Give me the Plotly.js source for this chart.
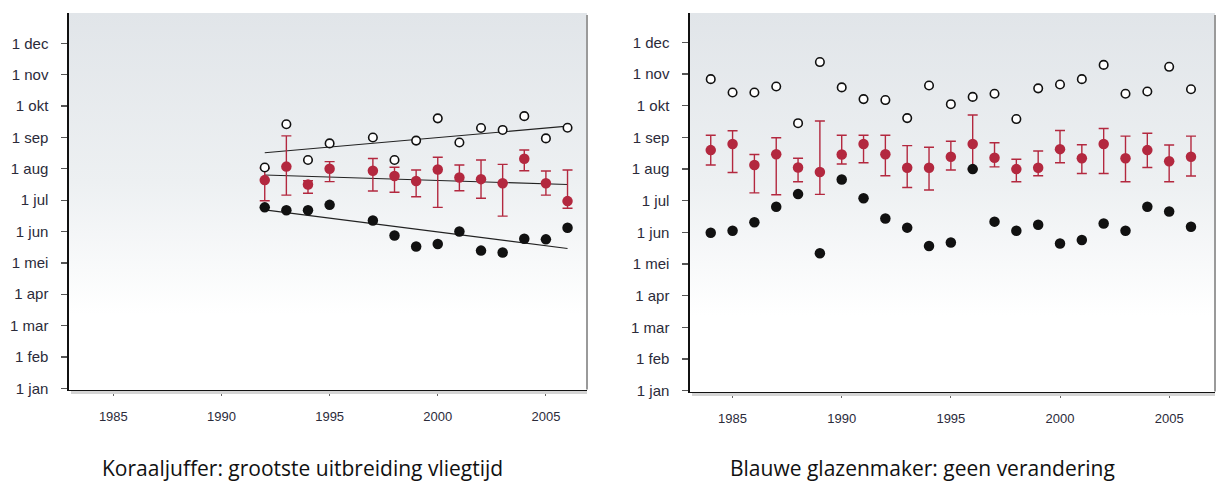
<!DOCTYPE html>
<html>
<head>
<meta charset="utf-8">
<script src="https://cdn.plot.ly/plotly-3.0.1.min.js"></script>
<style>html,body{margin:0;padding:0;background:#fff;}#chart{width:1220px;height:482px;}</style>
</head>
<body>
<div id="chart"></div>
<script>
// y values: months since 1 jan (0 = 1 jan, 11 = 1 dec)
const monthLabels = ["1 jan","1 feb","1 mar","1 apr","1 mei","1 jun","1 jul","1 aug","1 sep","1 okt","1 nov","1 dec"];
const yearTicks = [1985, 1990, 1995, 2000, 2005];

// Koraaljuffer (left)
const koraYears = [1992,1993,1994,1995,1997,1998,1999,2000,2001,2002,2003,2004,2005,2006];
const koraLast  = [7.04,8.42,7.28,7.81,8.00,7.28,7.90,8.61,7.84,8.30,8.24,8.68,7.97,8.31];
const koraMean  = [6.64,7.07,6.50,7.00,6.94,6.77,6.61,6.98,6.72,6.67,6.54,7.32,6.54,5.97];
const koraHigh  = [7.02,8.05,6.62,7.23,7.33,7.05,6.96,7.37,7.12,7.28,7.14,7.60,6.93,6.96];
const koraLow   = [5.98,6.16,6.22,6.59,6.29,6.25,6.11,5.77,6.30,6.06,5.49,6.94,6.16,5.74];
const koraFirst = [5.77,5.68,5.68,5.85,5.35,4.87,4.52,4.60,5.00,4.39,4.33,4.77,4.75,5.12];
const trendYears = [1992, 2006];
const trendLast  = [7.51, 8.36];
const trendMean  = [6.80, 6.50];
const trendFirst = [5.69, 4.46];

// Blauwe glazenmaker (right)
const blauYears = [1984,1985,1986,1987,1988,1989,1990,1991,1992,1993,1994,1995,1996,1997,1998,1999,2000,2001,2002,2003,2004,2005,2006];
const blauLast  = [9.84,9.42,9.42,9.61,8.45,10.38,9.58,9.21,9.18,8.61,9.64,9.05,9.28,9.38,8.58,9.55,9.67,9.84,10.29,9.38,9.45,10.23,9.52];
const blauMean  = [7.60,7.79,7.13,7.47,7.05,6.91,7.46,7.79,7.47,7.04,7.04,7.39,7.79,7.36,7.00,7.04,7.63,7.34,7.79,7.34,7.60,7.25,7.39];
const blauHigh  = [8.07,8.21,7.46,7.99,7.34,8.52,8.07,8.07,8.07,7.74,7.69,7.88,8.71,7.83,7.31,7.57,8.22,7.77,8.28,8.04,8.13,7.76,8.04];
const blauLow   = [7.13,6.89,6.25,6.19,6.60,6.20,7.16,7.20,6.79,6.42,6.34,6.97,7.00,7.07,6.60,6.79,7.20,6.86,6.86,6.60,7.05,6.60,6.78];
const blauFirst = [4.99,5.05,5.32,5.81,6.21,4.34,6.67,6.08,5.44,5.15,4.57,4.68,7.00,5.34,5.05,5.24,4.65,4.76,5.28,5.05,5.81,5.66,5.18];

const RED = '#b3283f';
const plus = (a, b) => a.map((v, i) => v - b[i]);
const minus = (a, b) => b.map((v, i) => v - a[i]);

function panelTraces(years, last, mean, hi, lo, first, xa, ya) {
  return [
    {x: years, y: mean, xaxis: xa, yaxis: ya, type: 'scatter', mode: 'markers',
     marker: {color: RED, size: 10.5},
     error_y: {type: 'data', symmetric: false, array: plus(hi, mean), arrayminus: minus(lo, mean),
               color: RED, thickness: 1.4, width: 5}},
    {x: years, y: first, xaxis: xa, yaxis: ya, type: 'scatter', mode: 'markers',
     marker: {color: '#111', size: 10.5}},
    {x: years, y: last, xaxis: xa, yaxis: ya, type: 'scatter', mode: 'markers',
     marker: {color: '#fff', size: 8.5, line: {color: '#111', width: 1.6}}}
  ];
}

const traces = [
  {x: trendYears, y: trendLast, xaxis: 'x', yaxis: 'y', mode: 'lines', line: {color: '#222', width: 1.1}},
  {x: trendYears, y: trendMean, xaxis: 'x', yaxis: 'y', mode: 'lines', line: {color: '#222', width: 1.1}},
  {x: trendYears, y: trendFirst, xaxis: 'x', yaxis: 'y', mode: 'lines', line: {color: '#222', width: 1.1}},
  ...panelTraces(koraYears, koraLast, koraMean, koraHigh, koraLow, koraFirst, 'x', 'y'),
  ...panelTraces(blauYears, blauLast, blauMean, blauHigh, blauLow, blauFirst, 'x2', 'y2')
];

const W = 1220, H = 482;
const px = v => v / W, py = v => 1 - v / H;

const xFont = {family: 'Liberation Sans, Arial, sans-serif', size: 13, color: '#2b2b3a'};
const yFont = {family: 'Liberation Sans, Arial, sans-serif', size: 15, color: '#2b2b3a'};
function xAxis(dom, range, anchor) {
  return {domain: dom, range: range, anchor: anchor, tickvals: yearTicks, ticks: 'outside', ticklen: 5, tickcolor: '#666',
          tickwidth: 1, showline: true, linecolor: '#111', linewidth: 1.6, showgrid: false, zeroline: false,
          tickfont: xFont, ticklabelstandoff: 9, fixedrange: true};
}
function yAxis(dom, range, anchor) {
  return {domain: dom, range: range, anchor: anchor, tickvals: [0,1,2,3,4,5,6,7,8,9,10,11], ticktext: monthLabels,
          ticks: 'outside', ticklen: 6, tickcolor: '#555', tickwidth: 1.3, showline: true, linecolor: '#111',
          linewidth: 1.6, showgrid: false, zeroline: false, tickfont: yFont, ticklabelstandoff: 10, fixedrange: true};
}

const grad = 'data:image/svg+xml;utf8,' + encodeURIComponent(
  '<svg xmlns="http://www.w3.org/2000/svg" width="100" height="100" preserveAspectRatio="none">' +
  '<defs><linearGradient id="g" x1="0" y1="0" x2="0" y2="1">' +
  '<stop offset="0" stop-color="#e1e5e9"/><stop offset="0.45" stop-color="#edf0f2"/>' +
  '<stop offset="0.8" stop-color="#ffffff"/><stop offset="1" stop-color="#ffffff"/></linearGradient></defs>' +
  '<rect width="100" height="100" fill="url(#g)"/></svg>');

const Lx0 = 69, Lx1 = 587, Rx0 = 690, Rx1 = 1215, T = 13, LB = 389.5, RB = 391.5;

const layout = {
  width: W, height: H, margin: {l: 0, r: 0, t: 0, b: 0},
  paper_bgcolor: '#fff', plot_bgcolor: 'rgba(0,0,0,0)', showlegend: false,
  xaxis: xAxis([px(Lx0), px(Lx1)], [1982.95, 2006.9], 'y'),
  yaxis: yAxis([py(LB), py(T)], [-0.04, 11.97], 'x'),
  xaxis2: xAxis([px(Rx0), px(Rx1)], [1983.05, 2007.1], 'y2'),
  yaxis2: yAxis([py(RB), py(T)], [-0.025, 11.93], 'x2'),
  images: [
    {source: grad, xref: 'paper', yref: 'paper', x: px(Lx0), y: py(T), sizex: px(Lx1) - px(Lx0),
     sizey: py(T) - py(LB), sizing: 'stretch', layer: 'below', xanchor: 'left', yanchor: 'top'},
    {source: grad, xref: 'paper', yref: 'paper', x: px(Rx0), y: py(T), sizex: px(Rx1) - px(Rx0),
     sizey: py(T) - py(RB), sizing: 'stretch', layer: 'below', xanchor: 'left', yanchor: 'top'}
  ],
  shapes: [
    {type: 'line', xref: 'paper', yref: 'paper', x0: px(Lx1), x1: px(Lx1), y0: py(LB), y1: py(T + 2),
     line: {color: '#9a9a9a', width: 2}},
    {type: 'line', xref: 'paper', yref: 'paper', x0: px(Rx1), x1: px(Rx1), y0: py(RB), y1: py(T + 2),
     line: {color: '#9a9a9a', width: 2}},
    {type: 'line', xref: 'paper', yref: 'paper', x0: px(Lx0 + 2), x1: px(Lx1), y0: py(LB + 3), y1: py(LB + 3),
     line: {color: '#d4d4d4', width: 3}},
    {type: 'line', xref: 'paper', yref: 'paper', x0: px(Rx0 + 2), x1: px(Rx1), y0: py(RB + 3), y1: py(RB + 3),
     line: {color: '#d4d4d4', width: 3}}
  ],
  annotations: [
    {text: 'Koraaljuffer: grootste uitbreiding vliegtijd', xref: 'paper', yref: 'paper', x: px(302), y: py(468),
     xanchor: 'center', yanchor: 'middle', showarrow: false,
     font: {family: 'Open Sans, sans-serif', size: 21, color: '#111'}},
    {text: 'Blauwe glazenmaker: geen verandering', xref: 'paper', yref: 'paper', x: px(922), y: py(468),
     xanchor: 'center', yanchor: 'middle', showarrow: false,
     font: {family: 'Open Sans, sans-serif', size: 21, color: '#111'}}
  ]
};

Plotly.newPlot('chart', traces, layout, {displayModeBar: false, staticPlot: true});
</script>
</body>
</html>
